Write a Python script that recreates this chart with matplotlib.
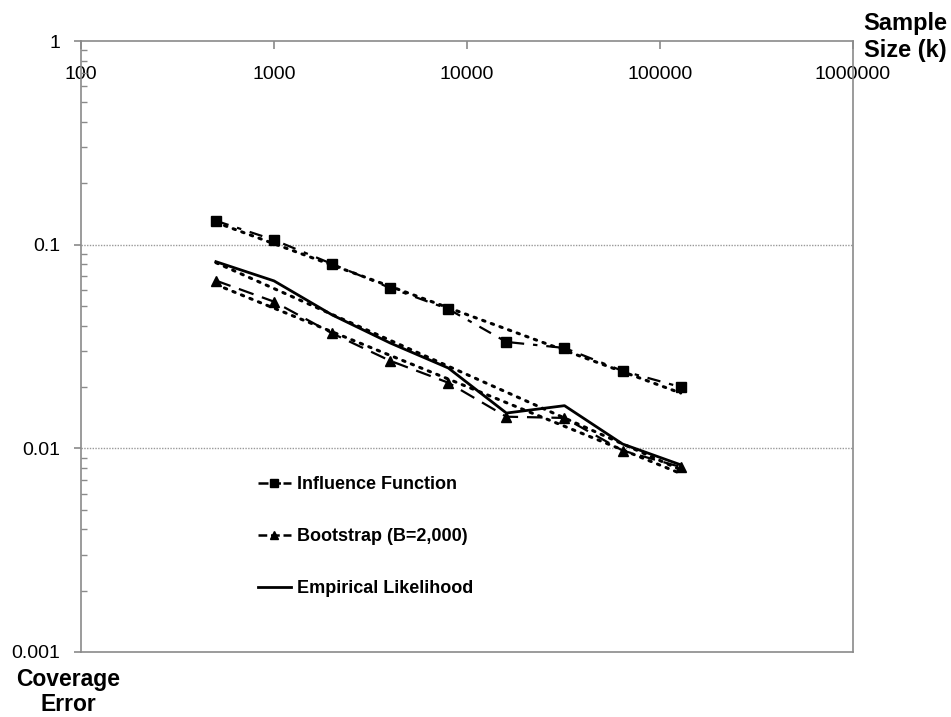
import numpy as np
import matplotlib
matplotlib.use("Agg")
import matplotlib.pyplot as plt
from matplotlib.ticker import FixedLocator, FixedFormatter, LogLocator, NullFormatter
from matplotlib.lines import Line2D

plt.rcParams['font.family'] = ['Liberation Sans', 'DejaVu Sans']

sample_size = [500, 1000, 2000, 4000, 8000, 16000, 32000, 64000, 128000]
influence = [0.131, 0.1055, 0.0804, 0.0613, 0.0483, 0.0333, 0.0311, 0.0240, 0.0200]
bootstrap = [0.0666, 0.0525, 0.0367, 0.0269, 0.0210, 0.0143, 0.0141, 0.00975, 0.0081]
empirical = [0.0825, 0.0664, 0.0452, 0.0329, 0.0248, 0.0149, 0.0162, 0.0105, 0.0083]

x_ticks = [100, 1000, 10000, 100000, 1000000]
x_tick_labels = ["100", "1000", "10000", "100000", "1000000"]
y_ticks = [0.001, 0.01, 0.1, 1]
y_tick_labels = ["0.001", "0.01", "0.1", "1"]
series_labels = ["Influence Function", "Bootstrap (B=2,000)", "Empirical Likelihood"]

fig = plt.figure(figsize=(9.51, 7.17), dpi=100)
ax = fig.add_axes([81/951, 1-652/717, (853-81)/951, (652-41)/717])
ax.set_xscale('log')
ax.set_yscale('log')
ax.set_xlim(100, 1000000)
ax.set_ylim(0.001, 1)

grey = '#8a8a8a'
for s in ax.spines.values():
    s.set_color(grey)
    s.set_linewidth(1.2)

# grid lines at 0.1 and 0.01
for yv in [0.1, 0.01]:
    ax.axhline(yv, color='#999999', lw=1.0, ls=(0, (1, 1)), zorder=1)

x = np.array(sample_size, dtype=float)

# power trendlines (fits)
for ys in [influence, bootstrap, empirical]:
    b, a = np.polyfit(np.log10(x), np.log10(ys), 1)
    ax.plot(x, 10**(a + b*np.log10(x)), color='black', lw=2.2,
            ls=(0, (0.8, 2.2)), dash_capstyle='round', zorder=2)

ax.plot(x, influence, color='black', lw=1.6, ls=(0, (6, 4, 2, 4)),
        marker='s', ms=6.5, zorder=3)
ax.plot(x, bootstrap, color='black', lw=1.6, ls=(0, (7, 4)),
        marker='^', ms=7, zorder=3)
ax.plot(x, empirical, color='black', lw=2.0, ls='-', zorder=3)

# ticks
ax.xaxis.set_major_locator(FixedLocator(x_ticks))
ax.xaxis.set_major_formatter(FixedFormatter(x_tick_labels))
ax.xaxis.set_minor_locator(FixedLocator([]))
ax.tick_params(axis='x', which='major', bottom=False, top=True, labelbottom=False,
               labeltop=True, direction='in', length=6, color=grey, width=1.2,
               labelsize=14, pad=-18)
for lab in ax.get_xticklabels():
    lab.set_verticalalignment('top')

ax.yaxis.set_major_locator(FixedLocator(y_ticks))
ax.yaxis.set_major_formatter(FixedFormatter(y_tick_labels))
ax.yaxis.set_minor_locator(LogLocator(base=10, subs=np.arange(2, 10)))
ax.yaxis.set_minor_formatter(NullFormatter())
ax.tick_params(axis='y', which='major', direction='out', length=5, color=grey,
               width=1.2, labelsize=14, pad=10)
ax.tick_params(axis='y', which='minor', direction='in', length=4, color=grey, width=1.0)

# legend
handles = [
    Line2D([], [], color='black', lw=1.8, ls=(0, (4, 1)), marker='s', ms=6, markevery=[1]),
    Line2D([], [], color='black', lw=1.8, ls=(0, (3.5, 1.5)), marker='^', ms=6, markevery=[1]),
    Line2D([], [], color='black', lw=2.0, ls='-'),
]
for h in handles[:2]:
    h.set_xdata([0, 1, 2])
leg = ax.legend(handles, series_labels, loc='upper left',
                bbox_to_anchor=(177/772, (652-476)/611), frameon=False,
                prop={'weight': 'bold', 'size': 13}, labelspacing=1.95,
                handlelength=1.8, handletextpad=0.35, borderaxespad=0, borderpad=0)

fig.text(905/951, 1-37/717, "Sample\nSize (k)", ha='center', va='center',
         fontsize=17, fontweight='bold', linespacing=1.25)
fig.text(68/951, 1-668/717, "Coverage\nError", ha='center', va='top',
         fontsize=16.5, fontweight='bold', linespacing=1.1)

fig.savefig('out.png', dpi=100)
